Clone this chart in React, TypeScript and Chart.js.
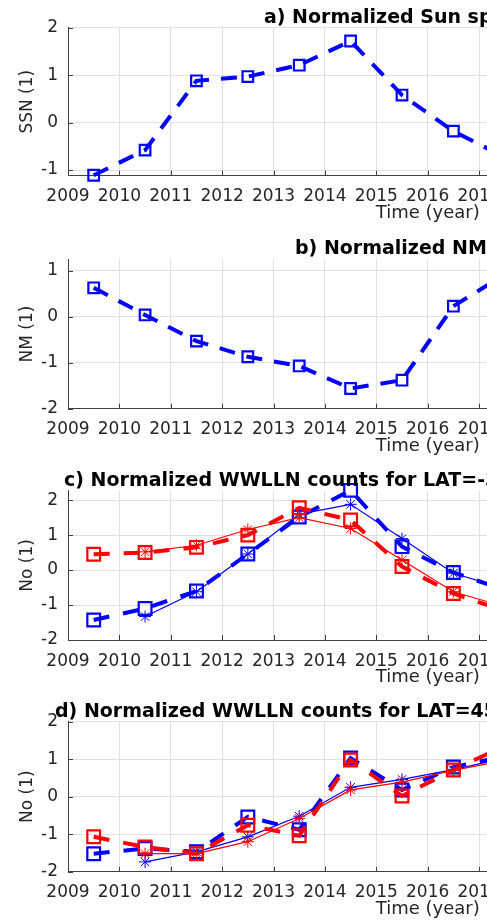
import React, { useEffect, useRef } from 'react';
import { Chart, registerables } from 'chart.js';

Chart.register(...registerables);

// ---------- data ----------
const years = [2009.5, 2010.5, 2011.5, 2012.5, 2013.5, 2014.5, 2015.5, 2016.5, 2017.5];
const xTickYears = [2009, 2010, 2011, 2012, 2013, 2014, 2015, 2016, 2017, 2018, 2019, 2020, 2021, 2022, 2023];

const ssn = [-1.11, -0.58, 0.88, 0.97, 1.21, 1.72, 0.58, -0.18, -0.73];
const nm = [0.63, 0.04, -0.53, -0.87, -1.07, -1.56, -1.38, 0.23, 0.92];

const cBlueDashed = [-1.43, -1.1, -0.6, 0.46, 1.52, 2.28, 0.67, -0.07, -0.57];
const cBlueThin = [null, -1.33, -0.62, 0.46, 1.6, 1.88, 0.9, -0.09, -0.53];
const cRedDashed = [0.45, 0.5, 0.65, 1.0, 1.78, 1.43, 0.1, -0.67, -1.17];
const cRedThin = [null, 0.52, 0.71, 1.16, 1.5, 1.19, 0.29, -0.62, -1.05];

const dBlueDashed = [-1.52, -1.38, -1.47, -0.54, -0.88, 1.03, 0.18, 0.79, 1.08];
const dBlueThin = [null, -1.74, -1.47, -1.07, -0.52, 0.25, 0.46, 0.72, 1.03];
const dRedDashed = [-1.07, -1.34, -1.52, -0.76, -1.04, 0.98, 0.02, 0.71, 1.36];
const dRedThin = [null, -1.52, -1.52, -1.2, -0.58, 0.18, 0.39, 0.7, 0.97];

const yTicksA = [-1, 0, 1, 2];
const yTicksB = [-2, -1, 0, 1];
const yTicksC = [-2, -1, 0, 1, 2];
const yTicksD = [-2, -1, 0, 1, 2];

const panelTitles = [
  'a) Normalized Sun spot numbers',
  'b) Normalized NM counts',
  'c) Normalized WWLLN counts for LAT=-35',
  'd) Normalized WWLLN counts for LAT=45',
];
const yLabels = ['SSN (1)', 'NM (1)', 'No (1)', 'No (1)'];
const xLabel = 'Time (year)';

// ---------- styles ----------
const BLUE = 'rgb(0,0,255)';
const RED = 'rgb(255,0,0)';
const TEXT = '#262626';
const GRID = '#e0e0e0';
const AXIS = '#404040';
const FAMILY = '"DejaVu Sans", sans-serif';
const CANVAS_W = 820;
const CANVAS_H = 230;

const pts = (vals: (number | null)[]) => years.map((x, i) => ({ x, y: vals[i] }));

const thick = (vals: (number | null)[], color: string, radius: number, dash: number[]) => ({
  data: pts(vals),
  borderColor: color,
  borderWidth: 4,
  borderDash: dash,
  pointStyle: 'rect',
  pointRadius: radius,
  pointHoverRadius: radius,
  pointBorderColor: color,
  pointBackgroundColor: 'rgba(0,0,0,0)',
  pointBorderWidth: 2.2,
  tension: 0,
  fill: false,
  clip: false,
});

const thin = (vals: (number | null)[], color: string) => ({
  data: pts(vals),
  borderColor: color,
  borderWidth: 1.2,
  pointStyle: 'star',
  pointRadius: 6,
  pointHoverRadius: 6,
  pointBorderColor: color,
  pointBackgroundColor: color,
  pointBorderWidth: 1,
  tension: 0,
  fill: false,
  clip: false,
});

const panelDecor = {
  id: 'panelDecor',
  afterDraw(chart: any, _args: any, opts: any) {
    const { ctx, chartArea, scales } = chart;
    ctx.save();
    ctx.strokeStyle = AXIS;
    ctx.lineWidth = 1;
    ctx.beginPath();
    scales.x.ticks.forEach((t: any) => {
      const px = Math.round(scales.x.getPixelForValue(t.value)) + 0.5;
      ctx.moveTo(px, chartArea.bottom);
      ctx.lineTo(px, chartArea.bottom - 5);
    });
    scales.y.ticks.forEach((t: any) => {
      const py = Math.round(scales.y.getPixelForValue(t.value)) + 0.5;
      ctx.moveTo(chartArea.left, py);
      ctx.lineTo(chartArea.left + 5, py);
    });
    ctx.stroke();
    ctx.font = `bold 19px ${FAMILY}`;
    ctx.fillStyle = '#000';
    ctx.textAlign = 'left';
    ctx.textBaseline = 'alphabetic';
    ctx.fillText(opts.text, opts.x, chartArea.top - 5);
    ctx.restore();
  },
};

type Panel = {
  padTop: number;
  padBottom: number;
  yMin: number;
  yMax: number;
  yTicks: number[];
  titleX: number;
  datasets: any[];
};

const panels: Panel[] = [
  {
    padTop: 27.7, padBottom: 6.3, yMin: -1.12, yMax: 2, yTicks: yTicksA, titleX: 264,
    datasets: [thick(ssn, BLUE, 7.5, [16, 12])],
  },
  {
    padTop: 29.3, padBottom: 3.3, yMin: -2, yMax: 1.25, yTicks: yTicksB, titleX: 295,
    datasets: [thick(nm, BLUE, 7.5, [16, 12])],
  },
  {
    padTop: 30.7, padBottom: 2, yMin: -2, yMax: 2.27, yTicks: yTicksC, titleX: 64,
    datasets: [
      thin(cRedThin, RED),
      thick(cRedDashed, RED, 9, [16, 14]),
      thin(cBlueThin, BLUE),
      thick(cBlueDashed, BLUE, 9, [16, 14]),
    ],
  },
  {
    padTop: 31.7, padBottom: 0.3, yMin: -2, yMax: 2, yTicks: yTicksD, titleX: 55,
    datasets: [
      thin(dRedThin, RED),
      thick(dRedDashed, RED, 9, [16, 14]),
      thin(dBlueThin, BLUE),
      thick(dBlueDashed, BLUE, 9, [16, 14]),
    ],
  },
];

function makeConfig(p: Panel, idx: number): any {
  return {
    type: 'line',
    data: { datasets: p.datasets },
    options: {
      responsive: false,
      animation: false,
      devicePixelRatio: 1,
      events: [],
      layout: { padding: { top: p.padTop, bottom: p.padBottom, left: 0, right: 32 } },
      plugins: {
        legend: { display: false },
        tooltip: { enabled: false },
        title: { display: false },
        panelDecor: { text: panelTitles[idx], x: p.titleX },
      },
      scales: {
        x: {
          type: 'linear',
          min: 2009,
          max: 2023,
          afterBuildTicks: (s: any) => {
            s.ticks = xTickYears.map((v) => ({ value: v }));
          },
          afterFit: (s: any) => {
            s.height = 48;
          },
          grid: { color: GRID, lineWidth: 1, drawTicks: false },
          border: { display: true, color: AXIS, width: 1 },
          ticks: {
            padding: 11,
            color: TEXT,
            font: { family: FAMILY, size: 17 },
            maxRotation: 0,
            minRotation: 0,
            autoSkip: false,
            callback: (v: any) => String(v),
          },
          title: {
            display: true,
            text: xLabel,
            color: TEXT,
            font: { family: FAMILY, size: 18 },
            padding: { top: 0, bottom: 0 },
          },
        },
        y: {
          type: 'linear',
          min: p.yMin,
          max: p.yMax,
          afterBuildTicks: (s: any) => {
            s.ticks = p.yTicks.map((v) => ({ value: v }));
          },
          afterFit: (s: any) => {
            s.width = 68;
          },
          grid: { color: GRID, lineWidth: 1, drawTicks: false },
          border: { display: true, color: AXIS, width: 1 },
          ticks: {
            padding: 10,
            color: TEXT,
            font: { family: FAMILY, size: 17 },
            callback: (v: any) => String(v),
          },
          title: {
            display: true,
            text: yLabels[idx],
            color: TEXT,
            font: { family: FAMILY, size: 17 },
            padding: { top: 17, bottom: 0 },
          },
        },
      },
    },
    plugins: [panelDecor],
  };
}

export default function App() {
  const refs = useRef<(HTMLCanvasElement | null)[]>([]);

  useEffect(() => {
    const charts = panels.map((p, i) => {
      const c = refs.current[i];
      return c ? new Chart(c, makeConfig(p, i)) : null;
    });
    return () => {
      charts.forEach((ch) => ch && ch.destroy());
    };
  }, []);

  return (
    <div
      style={{
        position: 'absolute',
        left: 0,
        top: 0,
        width: 487,
        height: 920,
        overflow: 'hidden',
        background: '#fff',
      }}
    >
      {panels.map((_, i) => (
        <canvas
          key={i}
          ref={(el) => {
            refs.current[i] = el;
          }}
          width={CANVAS_W}
          height={CANVAS_H}
          style={{ position: 'absolute', left: 0, top: i * CANVAS_H, width: CANVAS_W, height: CANVAS_H }}
        />
      ))}
    </div>
  );
}
